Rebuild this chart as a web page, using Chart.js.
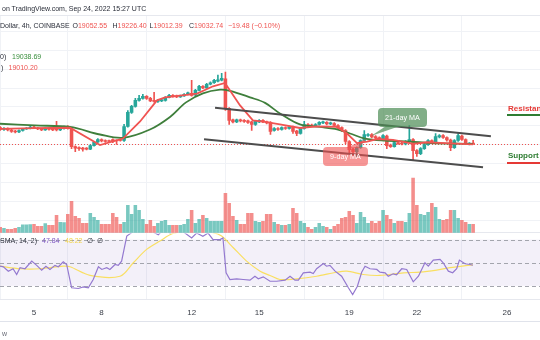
<!DOCTYPE html>
<html>
<head>
<meta charset="utf-8">
<script src="https://cdn.jsdelivr.net/npm/chart.js@4.4.1/dist/chart.umd.min.js"></script>
<style>
  html,body{margin:0;padding:0;background:#fff;}
  #wrap{position:relative;width:540px;height:340px;overflow:hidden;background:#fff;font-family:"Liberation Sans",Arial,sans-serif;}
  #c{position:absolute;left:0;top:0;}
  .t{position:absolute;white-space:nowrap;font-size:7px;line-height:9px;color:#2a2e39;}
  .r{color:#ef5350;}
  .g{color:#388e3c;}
  .box{position:absolute;color:#fff;font-size:7.2px;line-height:19px;text-align:center;border-radius:4px;white-space:nowrap;}
  .lab{position:absolute;font-size:8px;font-weight:bold;white-space:nowrap;line-height:9px;}
  .bar{position:absolute;height:2px;}
</style>
</head>
<body>
<div id="wrap">
  <canvas id="c" width="540" height="340"></canvas>

  <div class="t" style="left:2px;top:3.5px;">on TradingView.com, Sep 24, 2022 15:27 UTC</div>
  <div class="t" style="left:0px;top:20.5px;">Dollar, 4h, COINBASE</div>
  <div class="t" style="left:72.5px;top:20.5px;">O<span class="r">19052.55</span></div>
  <div class="t" style="left:112.5px;top:20.5px;">H<span class="r">19226.40</span></div>
  <div class="t" style="left:149.5px;top:20.5px;">L<span class="r">19012.39</span></div>
  <div class="t" style="left:189px;top:20.5px;">C<span class="r">19032.74</span></div>
  <div class="t r" style="left:228px;top:20.5px;">−19.48 (−0.10%)</div>

  <div class="t" style="left:0px;top:52px;">0)</div>
  <div class="t g" style="left:12px;top:52px;">19038.69</div>
  <div class="t" style="left:1px;top:63px;">)</div>
  <div class="t r" style="left:8.5px;top:63px;">19010.20</div>

  <div class="t" style="left:0px;top:236px;">SMA, 14, 2)</div>
  <div class="t" style="left:42px;top:236px;color:#7e57c2;">47.84</div>
  <div class="t" style="left:65px;top:236px;color:#f2d54c;">48.22</div>
  <div class="t" style="left:87px;top:236px;">∅</div>
  <div class="t" style="left:97px;top:236px;">∅</div>

  <div class="t" style="left:2px;top:328.5px;color:#6a6d78;">w</div>
  <div style="position:absolute;left:0;top:320.5px;width:540px;height:1px;background:#e0e3eb;"></div>

  <svg style="position:absolute;left:0;top:0;" width="540" height="340">
    <polygon points="386,126 400,126 371,136" fill="rgba(76,140,84,0.7)"/>
    <polygon points="346,148 359,148 366,139" fill="rgba(240,80,80,0.6)"/>
  </svg>
  <div class="box" style="left:378px;top:108px;width:49px;height:19px;background:rgba(76,140,84,0.7);">21-day MA</div>
  <div class="box" style="left:323px;top:147px;width:45px;height:19px;background:rgba(240,80,80,0.6);">9-day MA</div>

  <div class="lab" style="left:508px;top:104px;color:#e53935;">Resistance</div>
  <div class="bar" style="left:507px;top:113.5px;width:40px;background:#2e7d32;"></div>
  <div class="lab" style="left:508px;top:151px;color:#2e7d32;">Support</div>
  <div class="bar" style="left:507px;top:161.5px;width:40px;background:#e53935;"></div>
</div>

<script>
// ---------------- DATA ----------------
// 4-hour candles, Sep 3 12:00 UTC to Sep 24 12:00 UTC (x in "day of September")
const candleStartDay = 3.5;
const candleStepDay = 1 / 6;

const opens = [19910,19803,19856,19776,19723,19670,19750,19830,19856,19936,
19883,19830,19776,19856,19803,19830,19776,19856,19936,19856,
18898,18845,18819,18792,18765,18952,19138,19271,19218,19192,
19271,19218,19245,19218,19963,20708,21027,21346,21452,21559,
21452,21346,21293,21320,21346,21506,21612,21585,21532,21585,
21665,21719,21639,21878,22091,22011,22197,22277,22357,22410,
22490,20920,20309,20202,20309,20282,20256,20202,20069,20202,
20282,20202,20176,19750,19856,19803,19910,19856,19936,19723,
19590,19856,20069,20042,19989,20069,20149,20176,20096,20122,
20016,19910,19750,19165,18765,18633,18845,19218,19484,19537,
19431,19378,19298,19457,18978,18898,19112,19085,19032,19165,
19271,18686,18526,18792,19005,19218,19112,19404,19484,19378,
19245,18845,19218,19457,19271,19030,19052.55];

const closes = [19803,19856,19776,19697,19670,19750,19830,19856,19936,19883,
19830,19776,19856,19803,19776,19776,19856,19936,19856,18898,
18819,18792,18765,18765,18952,19138,19271,19192,19165,19165,
19165,19192,19218,19963,20708,21027,21346,21452,21559,21452,
21320,21293,21346,21373,21506,21612,21559,21532,21585,21665,
21745,21612,21878,22091,22011,22197,22277,22410,22437,22516,
20920,20282,20202,20309,20256,20229,20176,20069,20229,20282,
20202,20149,19697,19856,19803,19910,19856,19936,19697,19590,
19856,20069,20016,19989,20069,20176,20202,20096,20149,20016,
19883,19750,19165,18739,18633,18845,19218,19537,19537,19404,
19351,19298,19484,18952,18898,19112,19058,19032,19165,19271,
18686,18526,18792,19005,19218,19112,19431,19484,19378,19245,
18845,19218,19484,19271,19090,19060,19032.74];

const highs = [19960,19900,19890,19810,19760,19790,19860,19900,19980,19990,
19920,19860,19890,19880,19840,20230,19900,19980,20010,19910,
18940,18890,18860,18840,18990,19180,19320,19310,19260,19240,
19310,19260,19290,20070,20810,21080,21450,21610,21660,21600,
21500,21770,21390,21420,21550,21660,21650,21630,21630,21710,
21790,22410,21930,22140,22130,22250,22330,22460,22680,22780,
22840,20970,20360,20360,20350,20330,20300,20250,20280,20330,
20330,20250,20220,19900,19900,19950,19950,19980,19980,19760,
19900,20230,20110,20090,20110,20220,20250,20220,20190,20170,
20060,19950,19800,19210,18810,18890,19260,19750,19590,19580,
19480,19420,19530,19500,19030,19160,19160,19130,19210,20016,
19320,18740,18840,19050,19270,19260,19590,19530,19530,19420,
19290,19270,19590,19500,19310,19110,19226.40];

const lows = [19760,19750,19730,19650,19620,19640,19720,19800,19830,19850,
19790,19740,19750,19770,19740,19730,19740,19820,19820,18790,
18630,18690,18660,18720,18730,18920,19110,19150,19120,19120,
19100,19010,19180,19170,19930,20660,20990,21300,21410,21400,
21280,21250,21240,21280,21300,21470,21520,21490,21500,21550,
21630,21570,21600,21840,21970,21980,22160,22240,22320,22370,
20810,20070,20150,20160,20210,20180,20130,19750,20020,20160,
20160,20100,19540,19710,19760,19770,19810,19820,19590,19480,
19550,19820,19970,19950,19950,20030,20110,20050,20060,19970,
19840,19700,19058,18580,18420,18367,18800,19180,19440,19360,
19310,19250,19250,18792,18850,18860,19010,18990,18990,19120,
18207,18370,18470,18750,18960,19060,19070,19360,19330,19190,
18686,18800,19170,19220,19050,18990,19012.39];

const volumes = [1250,1000,750,750,1000,1250,1900,1900,1950,2000,
1500,1500,2200,1750,1750,4250,2500,2450,4500,7750,
4000,3500,2250,2250,4750,3750,3000,2000,2000,2000,
4750,3750,2000,2500,6750,4500,6750,5500,3250,2000,
3000,1500,2250,2750,3000,1750,1750,1750,1750,2000,
3250,5500,2250,3250,4250,3500,2750,2750,2750,2750,
9750,7250,4000,3000,2000,2000,4750,4750,2750,2500,
2750,4500,4500,2500,2000,1750,1750,2000,6000,4750,
2750,2250,1250,750,1250,2250,1500,1250,750,1500,
2000,3500,3750,5250,4250,2250,5000,3750,2250,2750,
2250,2750,5500,4250,3250,2250,2750,2750,2500,4750,
13500,6750,4500,4250,5000,7250,6250,3250,3000,3250,
5500,5500,3500,3000,2500,2000,2000];

// "21-day MA" (green) and "9-day MA" (red)
const maGreenDays = [3.49,5.04,6.60,7.93,8.95,10.15,11.04,11.75,12.50,13.26,13.70,14.59,15.26,15.92,16.81,17.70,18.37,19.03,19.70,20.59,21.70,22.58,24.49];
const maGreenValues = [20106,20016,19936,19537,19362,19803,20468,21240,21719,21915,21851,21506,21213,20654,20069,19936,19830,19590,19324,19218,19165,19085,19038.69];
const maRedDays = [3.49,5.04,6.60,7.93,8.95,9.71,10.46,10.82,12.24,12.95,13.48,14.15,14.72,15.26,15.92,16.81,17.57,18.45,18.90,19.34,19.79,20.23,20.94,21.47,21.83,22.45,23.25,24.49];
const maRedValues = [19840,19872,19894,18979,19324,20229,21346,21506,21703,22091,22266,21080,20282,20202,20069,19883,19963,19936,19590,19085,19165,19298,19256,19138,19042,19127,19085,19010.20];

// Descending channel drawn on the chart
const channelUpperDays = [13.04, 25.29];
const channelUpperPrices = [20958, 19447];
const channelLowerDays = [12.55, 24.94];
const channelLowerPrices = [19287, 17798];

// RSI (14) and its SMA
const rsiDays = [3.49,3.64,3.86,4.07,4.23,4.38,4.60,4.90,5.12,5.34,5.53,5.71,5.93,6.08,6.30,6.45,6.67,6.97,7.19,7.41,7.63,7.86,8.01,8.23,8.37,8.60,8.74,8.89,9.12,9.34,9.71,10.37,10.52,10.82,11.04,11.48,12.00,12.22,12.50,12.73,12.95,13.26,13.39,13.53,13.70,14.00,14.29,14.59,14.81,14.96,15.18,15.48,15.78,16.15,16.37,16.59,16.74,16.96,17.26,17.40,17.55,17.85,17.99,18.14,18.37,18.66,18.96,19.15,19.36,19.55,19.70,19.92,20.22,20.36,20.59,20.73,20.95,21.10,21.33,21.55,21.84,22.07,22.36,22.51,22.73,23.03,23.17,23.40,23.59,23.77,23.89,24.14,24.36,24.49];
const rsiValues = [47.0,46.5,42.7,44.8,39.8,45.7,44.8,51.4,47.7,43.6,47.0,44.2,47.7,46.5,50.9,48.5,28.3,27.7,29.1,28.3,35.5,46.5,44.2,45.7,44.2,48.5,47.7,51.4,73.1,76.1,82,75.7,74.3,80,75.7,79,71.4,75.7,72.9,75.7,70.0,70.0,71.4,41.3,35.5,36.1,35.5,34.9,38.3,36.1,37.8,34.0,34.0,34.9,38.3,34.9,34.9,41.3,41.8,40.7,44.8,49.4,47.0,47.7,42.7,38.3,28.3,22.4,29.7,41.8,47.0,44.8,44.2,41.8,41.3,38.3,40.4,39.6,44.8,44.2,33.5,38.3,50.0,47.0,52.3,52.9,50.0,42.7,41.3,44.8,52.3,49.1,48.5,47.84];
const rsiMaDays = [3.49,4.38,5.27,6.30,6.60,7.49,8.82,9.41,10.0,10.59,11.19,12.15,12.95,13.33,13.85,14.44,15.04,15.48,15.92,16.66,17.55,18.44,18.89,19.62,20.36,21.40,22.14,22.88,23.47,24.49];
const rsiMaValues = [47.0,44.8,44.8,47.0,46.5,39.0,38.3,50.0,61.6,68.8,75.5,77.7,76.1,73.1,63.0,51.4,42.7,39.0,35.5,36.1,38.3,41.8,42.7,39.8,39.0,41.3,41.8,43.6,45.7,48.22];
const rsiLevels = [70, 50, 30];

// Tick labels
const dayTicks = [5, 8, 12, 15, 19, 22, 26];
const priceGridLevels = [15000,16000,17000,18000,19000,20000,21000,22000,23000,24000,25000];

// ---------------- VIEW ----------------
const UP = '#26a69a', DOWN = '#ef5350';
const UP_VOL = 'rgba(38,166,154,0.62)', DOWN_VOL = 'rgba(239,83,80,0.66)';
const GRID = '#f0f2f6';
const FONT = '"Liberation Sans", Arial, sans-serif';

const xs = opens.map((_, i) => candleStartDay + i * candleStepDay);
const isUp = closes.map((c, i) => c >= opens[i]);
const pts = (d, v) => d.map((x, i) => ({ x, y: v[i] }));
const lastClose = closes[closes.length - 1];

const panePlugin = {
  id: 'panes',
  beforeDatasetsDraw(chart) {
    const { ctx, chartArea: a, scales } = chart;
    const r = scales.yRsi, v = scales.yVol, p = scales.y;
    const sep = Math.round(v.getPixelForValue(0)) + 0.5;
    ctx.save();
    const y70 = r.getPixelForValue(rsiLevels[0]);
    const y30 = r.getPixelForValue(rsiLevels[2]);
    ctx.fillStyle = 'rgba(126,87,194,0.09)';
    ctx.fillRect(a.left, y70, a.width, y30 - y70);
    ctx.lineWidth = 1;
    ctx.strokeStyle = '#a3a5ad';
    ctx.setLineDash([4, 3]);
    rsiLevels.forEach(l => {
      const y = Math.round(r.getPixelForValue(l)) + 0.5;
      ctx.beginPath(); ctx.moveTo(a.left, y); ctx.lineTo(a.right, y); ctx.stroke();
    });
    ctx.setLineDash([]);
    ctx.strokeStyle = '#e6e8ee';
    [sep, Math.round(a.top) + 0.5, Math.round(a.bottom) - 0.5].forEach(y => {
      ctx.beginPath(); ctx.moveTo(a.left, y); ctx.lineTo(a.right, y); ctx.stroke();
    });
    const py = Math.round(p.getPixelForValue(lastClose)) + 0.5;
    ctx.strokeStyle = '#ef5350';
    ctx.setLineDash([1, 2]);
    ctx.beginPath(); ctx.moveTo(a.left, py); ctx.lineTo(a.right, py); ctx.stroke();
    ctx.restore();
  },
  beforeDatasetDraw(chart, args) {
    if (args.meta.yAxisID === 'yRsi') {
      const { ctx, chartArea: a, scales } = chart;
      const top = scales.yVol.getPixelForValue(0) + 1;
      ctx.save();
      ctx.beginPath();
      ctx.rect(a.left, top, a.width, a.bottom - top);
      ctx.clip();
    }
  },
  afterDatasetDraw(chart, args) {
    if (args.meta.yAxisID === 'yRsi') chart.ctx.restore();
  }
};

new Chart(document.getElementById('c'), {
  type: 'bar',
  data: {
    datasets: [
      { type: 'line', data: pts(rsiDays, rsiValues), yAxisID: 'yRsi', borderColor: '#9479d0', borderWidth: 1.2, pointRadius: 0, tension: 0, order: 1 },
      { type: 'line', data: pts(rsiMaDays, rsiMaValues), yAxisID: 'yRsi', borderColor: 'rgba(250,222,90,0.95)', borderWidth: 1.2, pointRadius: 0, tension: 0.3, order: 2 },
      { type: 'line', data: pts(channelUpperDays, channelUpperPrices), yAxisID: 'y', borderColor: '#4d4d4d', borderWidth: 2, pointRadius: 0, order: 0 },
      { type: 'line', data: pts(channelLowerDays, channelLowerPrices), yAxisID: 'y', borderColor: '#4d4d4d', borderWidth: 2, pointRadius: 0, order: 0 },
      { type: 'line', data: pts(maRedDays, maRedValues), yAxisID: 'y', borderColor: '#f05452', borderWidth: 1.8, pointRadius: 0, tension: 0, order: 3 },
      { type: 'line', data: pts(maGreenDays, maGreenValues), yAxisID: 'y', borderColor: '#3f7f3c', borderWidth: 1.8, pointRadius: 0, tension: 0.35, order: 4 },
      { type: 'bar', data: xs.map((x, i) => ({ x, y: [opens[i], closes[i]] })), yAxisID: 'y',
        backgroundColor: isUp.map(u => u ? UP : DOWN), barThickness: 2.9, minBarLength: 1, grouped: false, order: 5 },
      { type: 'bar', data: xs.map((x, i) => ({ x, y: [lows[i], highs[i]] })), yAxisID: 'y',
        backgroundColor: isUp.map(u => u ? UP : DOWN), barThickness: 1, grouped: false, order: 6 },
      { type: 'bar', data: xs.map((x, i) => ({ x, y: volumes[i] })), yAxisID: 'yVol',
        backgroundColor: isUp.map(u => u ? UP_VOL : DOWN_VOL), barThickness: 2.9, grouped: false, order: 10 }
    ]
  },
  options: {
    responsive: false,
    animation: false,
    devicePixelRatio: 1,
    layout: { padding: { top: 15, bottom: 14.2, left: 0, right: 0 } },
    plugins: { legend: { display: false }, tooltip: { enabled: false } },
    scales: {
      x: {
        type: 'linear', min: 3.49, max: 27.469, offset: false,
        afterBuildTicks: s => { s.ticks = dayTicks.map(v => ({ value: v })); },
        ticks: { padding: 8, autoSkip: false, maxRotation: 0, color: '#3c404a', font: { size: 8, family: FONT }, callback: v => String(v) },
        grid: { color: GRID, drawTicks: false },
        border: { display: false }
      },
      y: {
        position: 'right', min: 10759, max: 25868,
        afterBuildTicks: s => { s.ticks = priceGridLevels.map(v => ({ value: v })); },
        ticks: { display: false },
        grid: { color: GRID, drawTicks: false },
        border: { display: false }
      },
      yVol: { display: false, min: -16875, max: 54125 },
      yRsi: { display: false, min: 17.57, max: 264.52 }
    }
  },
  plugins: [panePlugin]
});
</script>
</body>
</html>
